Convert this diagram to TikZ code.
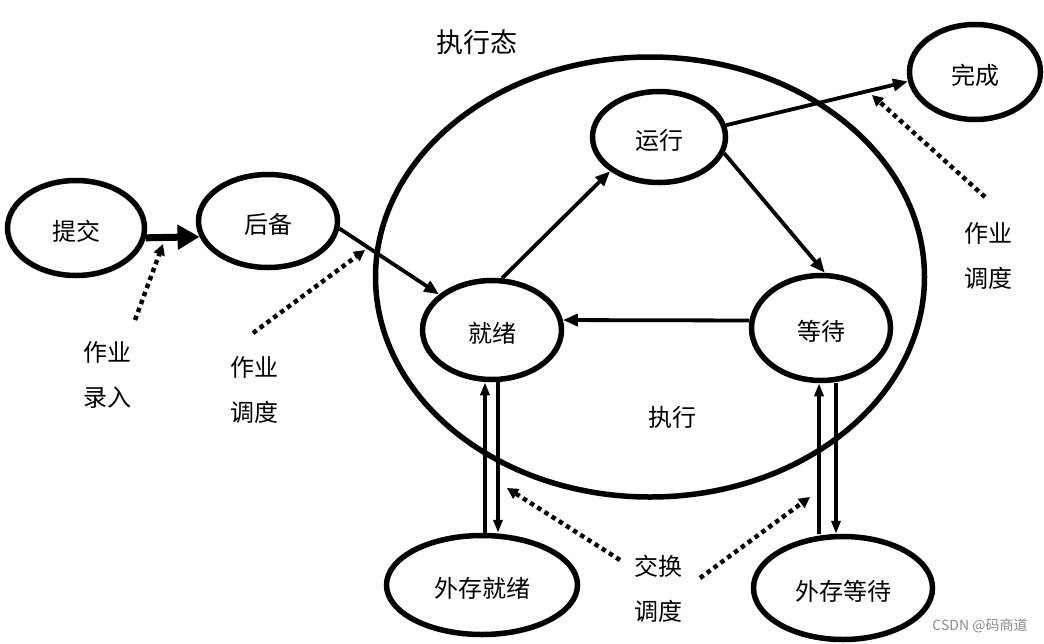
\documentclass[tikz,border=0pt]{standalone}
\usepackage{fontspec}
\newfontfamily\cjk{Noto Sans CJK SC}
\usetikzlibrary{shapes.geometric,arrows.meta}
\begin{document}
\begin{tikzpicture}[x=1pt,y=-1pt,
  st/.style={ellipse, draw, line width=5.5pt, inner sep=0pt, text height=25pt, text depth=0pt, font=\cjk\fontsize{24}{28}\selectfont},
  conn/.style={line width=3.8pt, -{Triangle[length=15pt,width=12pt]}},
  bigconn/.style={line width=7pt, -{Triangle[length=22pt,width=24pt]}},
  vconn/.style={line width=3.8pt, -{Triangle[length=13pt,width=9pt]}},
  dots/.style={line width=4.5pt, dash pattern=on 4.5pt off 4pt, -{Triangle[length=11pt,width=11pt]}},
  lbl/.style={font=\cjk\fontsize{24}{45}\selectfont, align=center, inner sep=0pt}]
\useasboundingbox (0,0) rectangle (1044,643);
% big execution ellipse
\node[st, minimum width=549pt, minimum height=440pt] (exec) at (650,277) {};
\node[lbl, font=\cjk\fontsize{27}{30}\selectfont] (execlbl) at (477,42) {执行态};
\node[lbl] (execin) at (672,417) {执行};
% states
\node[st, minimum width=137pt, minimum height=95pt] (tj) at (76,228) {提交};
\node[st, minimum width=139pt, minimum height=93pt] (hb) at (268,221) {后备};
\node[st, minimum width=133pt, minimum height=91pt] (yx) at (659,137) {运行};
\node[st, minimum width=139pt, minimum height=99pt] (jx) at (492,330) {就绪};
\node[st, minimum width=139pt, minimum height=105pt] (dd) at (821,328) {等待};
\node[st, minimum width=131pt, minimum height=95pt] (wc) at (975,72) {完成};
\node[st, minimum width=191pt, minimum height=99pt] (wj) at (482,585) {外存就绪};
\node[st, minimum width=179pt, minimum height=103pt] (wd) at (843,588) {外存等待};
% connectors
\draw[bigconn] (tj.-8) -- (hb.193);
\draw[conn] (hb.-6) -- (jx.146);
\draw[conn] (jx.79) -- (yx.215);
\draw[conn] (yx.-14) -- (dd.86);
\draw[conn] (dd.174) -- (jx.8);
\draw[conn] (yx.10) -- (wc.188);
\draw[vconn] ([xshift=-7pt]jx.south |- wj.north) -- ([xshift=-7pt]jx.south);
\draw[vconn] ([xshift=6pt]jx.south) -- ([xshift=6pt]jx.south |- wj.north);
\draw[vconn] ([xshift=-2pt]dd.south |- wd.north) -- ([xshift=-2pt]dd.south);
\draw[vconn] ([xshift=15pt]dd.south) -- ([xshift=15pt]dd.south |- wd.north);
% dotted scheduling arrows
\coordinate (lrS) at (135,320); \coordinate (lrE) at (163,244);
\coordinate (ldS) at (253,333); \coordinate (ldE) at (365,250);
\coordinate (rdS) at (985,197); \coordinate (rdE) at (872,95);
\coordinate (jlS) at (620,560); \coordinate (jlE) at (507,488);
\coordinate (jrS) at (700,578); \coordinate (jrE) at (810,497);
\draw[dots] (lrS) -- (lrE);
\draw[dots] (ldS) -- (ldE);
\draw[dots] (rdS) -- (rdE);
\draw[dots] (jlS) -- (jlE);
\draw[dots] (jrS) -- (jrE);
% labels
\node[lbl] (t1) at (107,375) {作业\\录入};
\node[lbl] (t2) at (254,390) {作业\\调度};
\node[lbl] (t3) at (988,256) {作业\\调度};
\node[lbl] (t4) at (658,589) {交换\\调度};
\node[font=\cjk\fontsize{14}{16}\selectfont, text=black!45, inner sep=0pt] (wm) at (980,626) {CSDN @码商道};
\end{tikzpicture}
\end{document}
